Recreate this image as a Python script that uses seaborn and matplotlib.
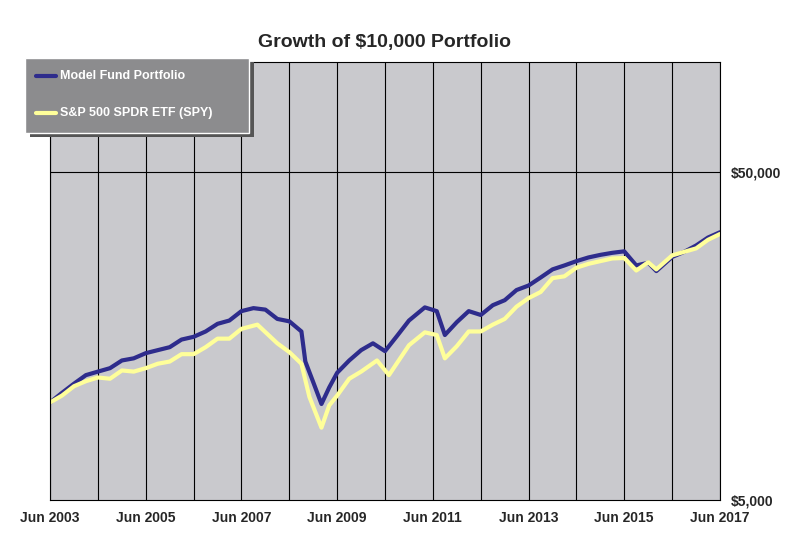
import pandas as pd
import numpy as np
import matplotlib
matplotlib.use("Agg")
import matplotlib.pyplot as plt
import matplotlib.dates as mdates
from matplotlib.ticker import FixedLocator, NullLocator
import seaborn as sns

# values (approximate)
model_dates = ["2003-06", "2003-09", "2003-12", "2004-03", "2004-06", "2004-09", "2004-12",
               "2005-03", "2005-06", "2005-09", "2005-12", "2006-03", "2006-06", "2006-09",
               "2006-12", "2007-03", "2007-06", "2007-09", "2007-12", "2008-03", "2008-06",
               "2008-09", "2008-10", "2008-12", "2009-02", "2009-04", "2009-06", "2009-09",
               "2009-12", "2010-03", "2010-06", "2010-09", "2010-12", "2011-04", "2011-07",
               "2011-09", "2011-12", "2012-03", "2012-06", "2012-09", "2012-12", "2013-03",
               "2013-06", "2013-09", "2013-12", "2014-03", "2014-06", "2014-09", "2014-12",
               "2015-03", "2015-06", "2015-09", "2015-12", "2016-02", "2016-06", "2016-09",
               "2016-12", "2017-03", "2017-06"]
model_vals = [9900, 10600, 11300, 12000, 12300, 12600, 13300, 13500, 14000, 14300, 14600,
              15400, 15700, 16300, 17200, 17600, 18800, 19200, 19000, 17800, 17500, 16300,
              13200, 11400, 9800, 11000, 12200, 13300, 14300, 15000, 14200, 15800, 17600,
              19300, 18800, 15900, 17400, 18800, 18300, 19600, 20300, 21800, 22500, 23800,
              25200, 25900, 26700, 27400, 27900, 28300, 28600, 25900, 26400, 24900, 27500,
              28500, 29800, 31500, 32700]

spy_dates = ["2003-06", "2003-09", "2003-12", "2004-03", "2004-06", "2004-09", "2004-12",
             "2005-03", "2005-06", "2005-09", "2005-12", "2006-03", "2006-06", "2006-09",
             "2006-12", "2007-03", "2007-06", "2007-10", "2008-03", "2008-06", "2008-09",
             "2008-11", "2009-02", "2009-04", "2009-06", "2009-09", "2009-12", "2010-04",
             "2010-07", "2010-12", "2011-04", "2011-07", "2011-09", "2011-12", "2012-03",
             "2012-06", "2012-09", "2012-12", "2013-03", "2013-06", "2013-09", "2013-12",
             "2014-03", "2014-06", "2014-09", "2014-12", "2015-03", "2015-06", "2015-09",
             "2015-12", "2016-02", "2016-06", "2016-09", "2016-12", "2017-03", "2017-06"]
spy_vals = [9900, 10400, 11100, 11500, 11800, 11700, 12400, 12300, 12600, 13000, 13200,
            13900, 13900, 14600, 15500, 15500, 16600, 17100, 15000, 14100, 13000, 10300,
            8300, 9700, 10400, 11700, 12300, 13300, 12000, 14800, 16200, 15900, 13500,
            14700, 16300, 16300, 17100, 17800, 19400, 20600, 21500, 23700, 24000, 25500,
            26200, 26700, 27200, 27300, 25000, 26500, 25200, 27800, 28500, 29200, 31000, 32300]

df = pd.concat([
    pd.DataFrame({"date": pd.to_datetime(model_dates), "value": model_vals,
                  "series": "Model Fund Portfolio"}),
    pd.DataFrame({"date": pd.to_datetime(spy_dates), "value": spy_vals,
                  "series": "S&P 500 SPDR ETF (SPY)"}),
])

sns.set_style("white")
plt.rcParams["font.family"] = ["Liberation Sans", "DejaVu Sans"]
plt.rcParams["font.weight"] = "bold"

fig = plt.figure(figsize=(8, 5.53), dpi=100)
ax = fig.add_axes([0.0625, 0.096, 0.8375, 0.792])
ax.set_facecolor("#c9c9cd")

sns.lineplot(data=df, x="date", y="value", hue="series",
             palette=["#2e2c8c", "#ffff9a"], linewidth=3, ax=ax, legend=False)

ax.set_yscale("log")
ax.set_ylim(5000, 108000)
ax.set_xlim(pd.Timestamp("2003-06-01"), pd.Timestamp("2017-06-01"))

ax.yaxis.tick_right()
ax.yaxis.set_major_locator(FixedLocator([5000, 50000]))
ax.yaxis.set_minor_locator(NullLocator())
ax.set_yticklabels(["$5,000", "$50,000"], fontsize=10, fontweight="bold")
ax.axhline(50000, color="black", lw=0.8, zorder=0)

year_lines = pd.date_range("2003-06-01", "2017-06-01", freq="12MS")
for d in year_lines:
    ax.axvline(d, color="black", lw=0.8, zorder=0)
tick_dates = year_lines[::2]
ax.set_xticks(tick_dates)
ax.set_xticklabels([d.strftime("Jun %Y") for d in tick_dates], fontsize=10, fontweight="bold")
ax.tick_params(length=0, pad=8)
ax.set_xlabel("")
ax.set_ylabel("")
for s in ax.spines.values():
    s.set_color("black")
    s.set_linewidth(0.8)

fig.text(0.48, 0.915, "Growth of $10,000 Portfolio", ha="center", fontsize=14, fontweight="bold")

# legend box
from matplotlib.patches import Rectangle
fig.patches.append(Rectangle((0.038, 0.752), 0.28, 0.135, transform=fig.transFigure,
                             facecolor="#555555", edgecolor="none", zorder=5))
fig.patches.append(Rectangle((0.031, 0.760), 0.28, 0.135, transform=fig.transFigure,
                             facecolor="#8c8c8e", edgecolor="white", lw=1, zorder=6))
from matplotlib.lines import Line2D
for yy, col, lab in [(0.862, "#2e2c8c", "Model Fund Portfolio"),
                     (0.795, "#ffff9a", "S&P 500 SPDR ETF (SPY)")]:
    fig.lines.append(Line2D([0.045, 0.07], [yy, yy], transform=fig.transFigure,
                            color=col, lw=3, zorder=7))
    fig.text(0.075, yy, lab, color="white", fontsize=9, fontweight="bold",
             va="center", zorder=7)

fig.savefig("out.png", dpi=100)
